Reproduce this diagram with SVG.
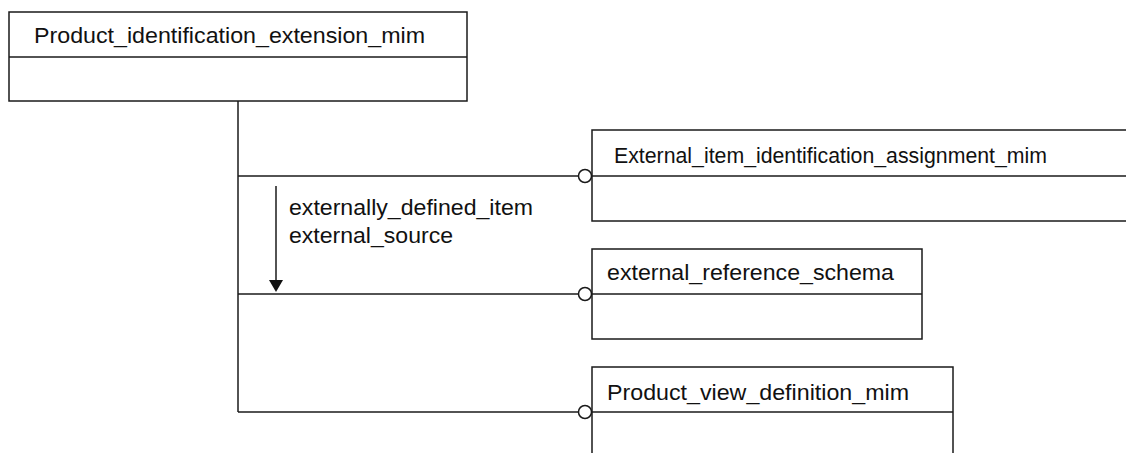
<svg xmlns="http://www.w3.org/2000/svg" width="1126" height="453" viewBox="0 0 1126 453">
<style>
.box{fill:#fff;stroke:#1a1a1a;stroke-width:1.5}
.ln{fill:none;stroke:#1a1a1a;stroke-width:1.5}
.circ{fill:#fff;stroke:#1a1a1a;stroke-width:1.5}
text{font-family:"Liberation Sans",Arial,sans-serif;font-size:22px;fill:#111}
</style>
<defs>
<marker id="arr" markerWidth="14" markerHeight="12" refX="7" refY="12" orient="auto-start-reverse" markerUnits="userSpaceOnUse" viewBox="0 0 14 12">
<path d="M0,0 L14,0 L7,12 Z" fill="#111" transform="rotate(0)"/>
</marker>
</defs>
<rect width="1126" height="453" fill="#fff"/>
<g id="connectors">
<line class="ln" x1="238" y1="101" x2="238" y2="412"/>
<line class="ln" x1="238" y1="176" x2="578.5" y2="176"/>
<line class="ln" x1="238" y1="294" x2="578.5" y2="294"/>
<line class="ln" x1="238" y1="412" x2="578.5" y2="412"/>
<circle class="circ" cx="585" cy="176" r="6.5"/>
<circle class="circ" cx="585" cy="294" r="6.5"/>
<circle class="circ" cx="585" cy="412" r="6.5"/>
<line class="ln" x1="276" y1="186" x2="276" y2="281"/>
<path d="M269,280 L283,280 L276,292 Z" fill="#111"/>
<text x="289" y="215" textLength="244" lengthAdjust="spacingAndGlyphs">externally_defined_item</text>
<text x="289" y="243" textLength="164" lengthAdjust="spacingAndGlyphs">external_source</text>
</g>
<g id="node-product-identification-extension-mim">
<rect class="box" x="9" y="12" width="458" height="89"/>
<line class="ln" x1="9" y1="57" x2="467" y2="57"/>
<text x="34" y="43" textLength="391" lengthAdjust="spacingAndGlyphs">Product_identification_extension_mim</text>
</g>
<g id="node-external-item-identification-assignment-mim">
<rect class="box" x="592" y="130" width="560" height="91"/>
<line class="ln" x1="592" y1="176" x2="1152" y2="176"/>
<text x="614" y="163" textLength="433" lengthAdjust="spacingAndGlyphs">External_item_identification_assignment_mim</text>
</g>
<g id="node-external-reference-schema">
<rect class="box" x="592" y="249" width="330" height="90"/>
<line class="ln" x1="592" y1="294" x2="922" y2="294"/>
<text x="607" y="280" textLength="287" lengthAdjust="spacingAndGlyphs">external_reference_schema</text>
</g>
<g id="node-product-view-definition-mim">
<rect class="box" x="592" y="367" width="361" height="120"/>
<line class="ln" x1="592" y1="412" x2="953" y2="412"/>
<text x="607" y="400" textLength="302" lengthAdjust="spacingAndGlyphs">Product_view_definition_mim</text>
</g>
</svg>
